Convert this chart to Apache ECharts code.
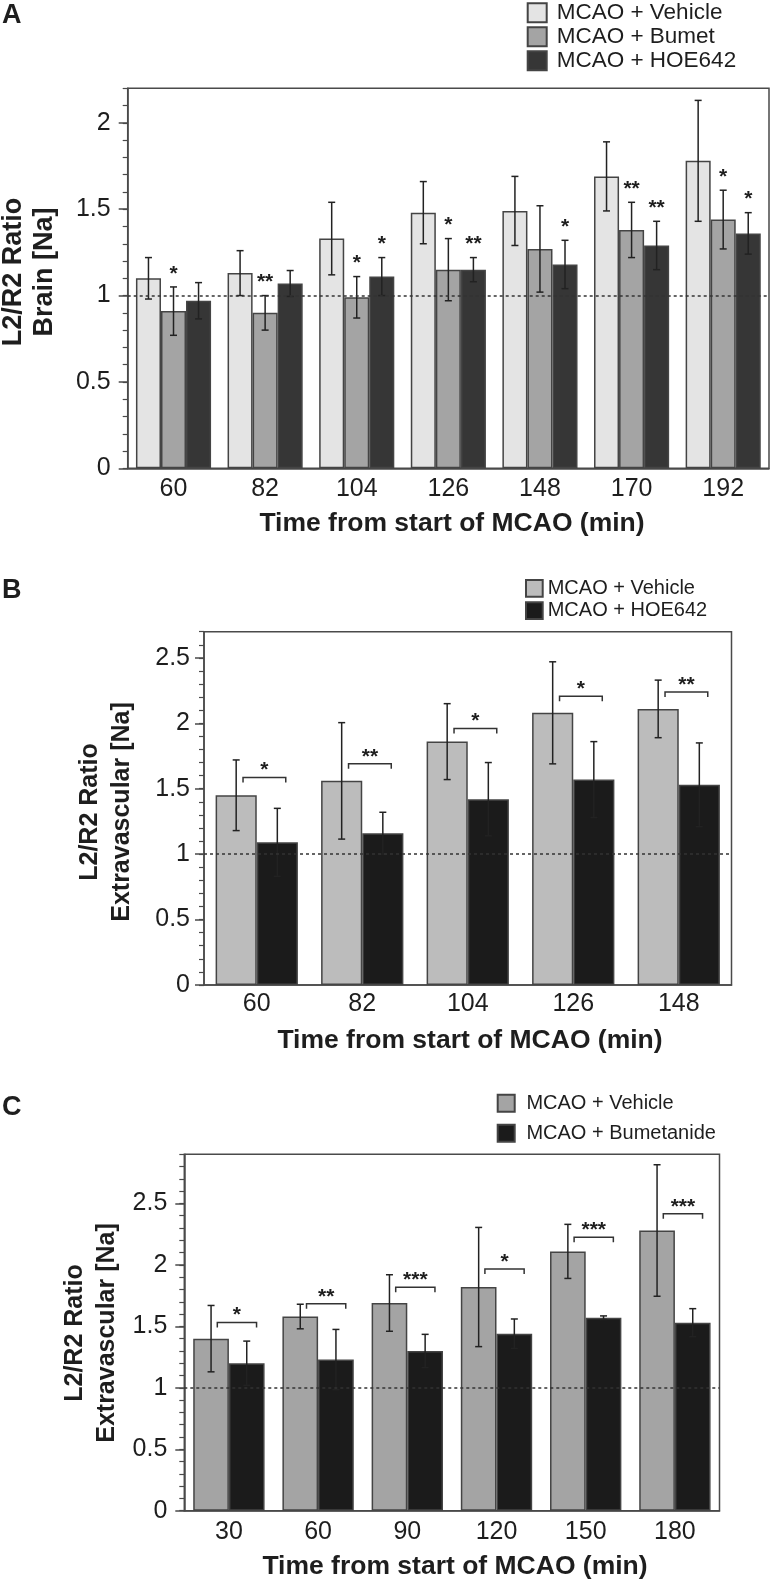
<!DOCTYPE html>
<html><head><meta charset="utf-8">
<script src="https://cdn.jsdelivr.net/npm/echarts@6/dist/echarts.min.js"></script>
<style>html,body{margin:0;padding:0;background:#fff;}div.p{position:absolute;left:0;width:775px;}</style>
</head><body>
<div id="pa" class="p" style="top:0;height:550px"></div>
<div id="pb" class="p" style="top:550px;height:510px"></div>
<div id="pc" class="p" style="top:1060px;height:521px"></div>
<script>
// ---------- Panel A ----------
const catsA = ['60', '82', '104', '126', '148', '170', '192'];
const vehA = [1.10, 1.13, 1.33, 1.48, 1.49, 1.69, 1.78];
const vehAErr = [0.12, 0.13, 0.21, 0.18, 0.20, 0.20, 0.35];
const bumA = [0.91, 0.90, 0.99, 1.15, 1.27, 1.38, 1.44];
const bumAErr = [0.14, 0.10, 0.12, 0.18, 0.25, 0.16, 0.17];
const hoeA = [0.97, 1.07, 1.11, 1.15, 1.18, 1.29, 1.36];
const hoeAErr = [0.105, 0.075, 0.11, 0.07, 0.14, 0.14, 0.12];
const starsBumA = ['*', '**', '*', '*', '', '**', '*'];
const starsHoeA = ['', '', '*', '**', '*', '**', '*'];
const namesA = ['MCAO + Vehicle', 'MCAO + Bumet', 'MCAO + HOE642'];
const ticksA = [0, 0.5, 1, 1.5, 2];

// ---------- Panel B ----------
const catsB = ['60', '82', '104', '126', '148'];
const vehB = [1.45, 1.56, 1.86, 2.08, 2.11];
const vehBErr = [0.27, 0.445, 0.29, 0.39, 0.22];
const hoeB = [1.09, 1.16, 1.42, 1.57, 1.53];
const hoeBErr = [0.26, 0.16, 0.28, 0.29, 0.32];
const sigB = ['*', '**', '*', '*', '**'];
const bracketB = [1.585, 1.69, 1.96, 2.206, 2.239];
const namesB = ['MCAO + Vehicle', 'MCAO + HOE642'];
const ticksB = [0, 0.5, 1, 1.5, 2, 2.5];

// ---------- Panel C ----------
const catsC = ['30', '60', '90', '120', '150', '180'];
const vehC = [1.40, 1.58, 1.69, 1.82, 2.11, 2.28];
const vehCErr = [0.27, 0.10, 0.23, 0.485, 0.22, 0.535];
const bumC = [1.20, 1.23, 1.30, 1.44, 1.57, 1.53];
const bumCErr = [0.18, 0.245, 0.135, 0.12, 0.015, 0.114];
const sigC = ['*', '**', '***', '*', '***', '***'];
const bracketC = [1.531, 1.683, 1.819, 1.966, 2.226, 2.416];
const namesC = ['MCAO + Vehicle', 'MCAO + Bumetanide'];
const ticksC = [0, 0.5, 1, 1.5, 2, 2.5];

const FONT = '"Liberation Sans", Arial, Helvetica, sans-serif';
const INK = '#1e1e1e';
const AXC = '#4a4a4a';

function boldText(text, size, extra) {
  return Object.assign({ text: text, fill: INK, fontFamily: FONT, fontSize: size, fontWeight: 'bold' }, extra || {});
}

function errRender(si, n, gap) {
  return function (params, api) {
    const ci = api.value(0);
    const lo = api.coord([ci, api.value(1)]);
    const hi = api.coord([ci, api.value(2)]);
    const band = api.size([1, 0])[0];
    const grp = band * (1 - gap);
    const bw = grp / n;
    const x = lo[0] - grp / 2 + (si + 0.5) * bw;
    const c = 3.5;
    const st = { stroke: '#222', lineWidth: 1.5 };
    return { type: 'group', children: [
      { type: 'line', shape: { x1: x, y1: lo[1], x2: x, y2: hi[1] }, style: st },
      { type: 'line', shape: { x1: x - c, y1: hi[1], x2: x + c, y2: hi[1] }, style: st },
      { type: 'line', shape: { x1: x - c, y1: lo[1], x2: x + c, y2: lo[1] }, style: st }
    ]};
  };
}

const CENTER = { align: 'center', verticalAlign: 'middle', textAlign: 'center', textVerticalAlign: 'middle' };

function starRender(si, n, gap) {
  return function (params, api) {
    const ci = api.value(0);
    const p = api.coord([ci, api.value(1)]);
    const band = api.size([1, 0])[0];
    const grp = band * (1 - gap);
    const bw = grp / n;
    const x = p[0] - grp / 2 + (si + 0.5) * bw;
    return { type: 'text', x: x, y: p[1] - 13,
      style: boldText(api.value(2), 21, CENTER) };
  };
}

function bracketRender(off0, off1) {
  return function (params, api) {
    const ci = api.value(0);
    const p = api.coord([ci, api.value(1)]);
    const band = api.size([1, 0])[0];
    const x1 = p[0] + off0 * band, x2 = p[0] + off1 * band, y = p[1];
    const st = { stroke: '#333', lineWidth: 1.5, fill: null };
    return { type: 'group', children: [
      { type: 'polyline', shape: { points: [[x1, y + 5], [x1, y], [x2, y], [x2, y + 5]] }, style: st },
      { type: 'text', x: (x1 + x2) / 2, y: y - 7, style: boldText(api.value(2), 21, CENTER) }
    ]};
  };
}

function buildPanel(cfg) {
  const n = cfg.series.length;
  const series = [];
  cfg.series.forEach(function (s, i) {
    const bar = {
      name: s.name, type: 'bar', data: s.values, xAxisIndex: 0, yAxisIndex: 0,
      barGap: '0%', barCategoryGap: (cfg.gap * 100) + '%',
      itemStyle: { color: s.color, borderColor: '#444', borderWidth: 1.5 },
      emphasis: { disabled: true }, z: 2, animation: false
    };
    if (i === 0) {
      bar.markLine = { silent: true, symbol: 'none', animation: false,
        label: { show: false },
        lineStyle: { color: '#333', type: [3, 3], width: 1.5 },
        data: [{ yAxis: 1 }] };
    }
    series.push(bar);
    series.push({
      type: 'custom', xAxisIndex: 0, yAxisIndex: 0, z: 4, animation: false, silent: true,
      renderItem: errRender(i, n, cfg.gap),
      encode: { x: 0, y: [1, 2] },
      data: s.values.map(function (v, k) { return [k, v - s.err[k], v + s.err[k]]; })
    });
    if (s.stars) {
      series.push({
        type: 'custom', xAxisIndex: 0, yAxisIndex: 0, z: 5, animation: false, silent: true,
        renderItem: starRender(i, n, cfg.gap),
        encode: { x: 0, y: 1 },
        data: s.stars.map(function (t, k) { return [k, s.values[k] + s.err[k], t]; })
                     .filter(function (d) { return d[2] !== ''; })
      });
    }
  });
  if (cfg.brackets) {
    series.push({
      type: 'custom', xAxisIndex: 0, yAxisIndex: 0, z: 5, animation: false, silent: true,
      renderItem: bracketRender(cfg.bOff[0], cfg.bOff[1]),
      encode: { x: 0, y: 1 },
      data: cfg.brackets.map(function (y, k) { return [k, y, cfg.sig[k]]; })
    });
  }
  const g = cfg.grid;
  return {
    animation: false,
    backgroundColor: '#fff',
    textStyle: { fontFamily: FONT },
    grid: { left: g[0], top: g[1], width: g[2], height: g[3], show: true,
      borderColor: AXC, borderWidth: 1.5, backgroundColor: 'transparent' },
    legend: {
      data: cfg.series.map(function (s) { return s.name; }),
      orient: 'vertical', left: cfg.legend.left, top: cfg.legend.top,
      itemWidth: cfg.legend.box, itemHeight: cfg.legend.box, itemGap: 0, padding: 0,
      selectedMode: false, icon: 'rect',
      textStyle: { color: INK, fontFamily: FONT, fontSize: cfg.legend.font,
        lineHeight: cfg.legend.pitch, padding: [0, 0, 0, cfg.legend.tpad] }
    },
    xAxis: {
      type: 'category', data: cfg.cats, gridIndex: 0,
      axisLine: { lineStyle: { color: AXC, width: 1.5 } },
      axisTick: { show: false },
      axisLabel: { color: INK, fontSize: 25, fontFamily: FONT, margin: cfg.xMargin },
      splitLine: { show: false }
    },
    yAxis: [
      { type: 'value', min: 0, max: cfg.ymax, interval: 0.5, position: 'left',
        axisLine: { show: true, lineStyle: { color: AXC, width: 1.5 } },
        axisTick: { show: true, inside: false, length: 9, customValues: cfg.ticks,
          lineStyle: { color: AXC, width: 1.5 } },
        axisLabel: { color: INK, fontSize: 25, fontFamily: FONT, margin: cfg.yMargin,
          customValues: cfg.ticks },
        splitLine: { show: false } },
      { type: 'value', min: 0, max: cfg.ymax, interval: 0.1, position: 'left',
        axisLine: { show: false },
        axisTick: { show: true, inside: false, length: 5, lineStyle: { color: AXC, width: 1.2 } },
        axisLabel: { show: false },
        splitLine: { show: false } }
    ],
    graphic: [
      { type: 'text', x: 2, y: cfg.letterY,
        style: boldText(cfg.letter, 27, { align: 'left', verticalAlign: 'middle', textAlign: 'left', textVerticalAlign: 'middle' }) },
      { type: 'text', x: cfg.yTitle[0], y: cfg.yTitle[1], rotation: Math.PI / 2,
        style: boldText(cfg.yTitleText, cfg.yTitle[2], Object.assign({ lineHeight: cfg.yTitle[3] }, CENTER)) },
      { type: 'text', x: cfg.xTitle[0], y: cfg.xTitle[1],
        style: boldText('Time from start of MCAO (min)', 26.5, CENTER) }
    ],
    series: series
  };
}

const optA = buildPanel({
  cats: catsA, ymax: 2.2, ticks: ticksA, gap: 0.18,
  grid: [127.7, 88.3, 641.3, 380],
  series: [
    { name: namesA[0], values: vehA, err: vehAErr, color: '#e4e4e4' },
    { name: namesA[1], values: bumA, err: bumAErr, color: '#a4a4a4', stars: starsBumA },
    { name: namesA[2], values: hoeA, err: hoeAErr, color: '#363636', stars: starsHoeA }
  ],
  legend: { left: 526.7, top: 0.7, box: 19, font: 22.5, pitch: 24, tpad: 5 },
  xMargin: 8, yMargin: 17,
  letter: 'A', letterY: 16,
  yTitleText: 'L2/R2 Ratio\nBrain [Na]', yTitle: [29.5, 272, 27, 31],
  xTitle: [452, 524]
});

const optB = buildPanel({
  cats: catsB, ymax: 2.7, ticks: ticksB, gap: 0.22,
  grid: [204, 81.7, 527.5, 353.3],
  series: [
    { name: namesB[0], values: vehB, err: vehBErr, color: '#bcbcbc' },
    { name: namesB[1], values: hoeB, err: hoeBErr, color: '#1b1b1b' }
  ],
  brackets: bracketB, sig: sigB, bOff: [-0.13, 0.275],
  legend: { left: 525, top: 27.1, box: 16.7, font: 20, pitch: 22.4, tpad: 0 },
  xMargin: 7, yMargin: 14,
  letter: 'B', letterY: 41,
  yTitleText: 'L2/R2 Ratio\nExtravascular [Na]', yTitle: [106, 262, 25, 32],
  xTitle: [470, 491]
});

const optC = buildPanel({
  cats: catsC, ymax: 2.9, ticks: ticksC, gap: 0.2,
  grid: [184.3, 94.3, 535.2, 356.4],
  series: [
    { name: namesC[0], values: vehC, err: vehCErr, color: '#a4a4a4' },
    { name: namesC[1], values: bumC, err: bumCErr, color: '#1b1b1b' }
  ],
  brackets: bracketC, sig: sigC, bOff: [-0.13, 0.31],
  legend: { left: 496.7, top: 28.3, box: 17, font: 20, pitch: 30, tpad: 6.7 },
  xMargin: 9, yMargin: 17,
  letter: 'C', letterY: 48,
  yTitleText: 'L2/R2 Ratio\nExtravascular [Na]', yTitle: [91, 273, 25, 32],
  xTitle: [455, 507]
});

echarts.init(document.getElementById('pa'), null, { renderer: 'canvas' }).setOption(optA);
echarts.init(document.getElementById('pb'), null, { renderer: 'canvas' }).setOption(optB);
echarts.init(document.getElementById('pc'), null, { renderer: 'canvas' }).setOption(optC);
</script>
</body></html>
